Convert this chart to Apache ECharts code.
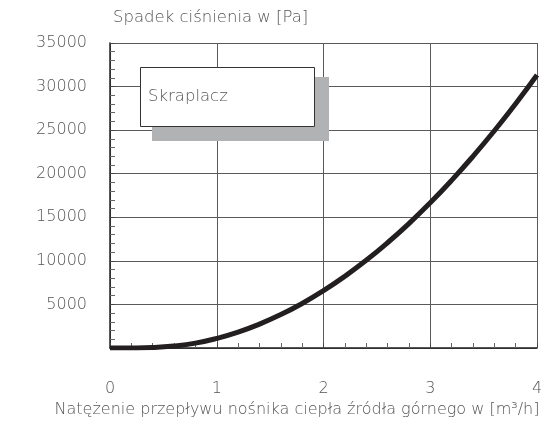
<!DOCTYPE html>
<html>
<head>
<meta charset="utf-8">
<script src="https://cdn.jsdelivr.net/npm/echarts@6/dist/echarts.min.js"></script>
<style>
  html, body { margin: 0; padding: 0; background: #fff; }
  #chart { width: 553px; height: 437px; }
</style>
</head>
<body>
<div id="chart"></div>
<script>
// przeplyw [m3/h] i spadek cisnienia [Pa]
var flow = [0, 0.2, 0.4, 0.6, 0.8, 1.0, 1.2, 1.4, 1.6, 1.8, 2.0, 2.2, 2.4, 2.6, 2.8, 3.0, 3.2, 3.4, 3.6, 3.8, 4.0];
var pressureDrop = [0, 10, 60, 230, 560, 1100, 1820, 2740, 3830, 5110, 6580, 8230, 10060, 12080, 14280, 16670, 19240, 21990, 24920, 28030, 31330];
var seriesName = 'Skraplacz';
var yTitle = 'Spadek ciśnienia w [Pa]';
var xTitle = 'Natężenie przepływu nośnika ciepła źródła górnego w [m³/h]';

var font = 'DejaVu Sans, sans-serif';
var fontW = 200;
var textColor = '#555';
var lineColor = '#5a5a5a';

var points = [];
for (var i = 0; i < flow.length; i++) {
  points.push([flow[i], pressureDrop[i]]);
}

var chart = echarts.init(document.getElementById('chart'));

chart.setOption({
  animation: false,
  grid: { left: 110, right: 16, top: 43, bottom: 89 },
  xAxis: {
    type: 'value',
    min: 0,
    max: 4,
    interval: 1,
    name: xTitle,
    nameLocation: 'middle',
    nameGap: 54,
    nameTextStyle: { fontFamily: font, fontWeight: fontW, fontSize: 16, color: textColor, padding: [0, 53, 0, 0] },
    axisLine: { show: true, lineStyle: { color: '#222', width: 1.5 } },
    axisTick: { show: true, inside: true, length: 5, lineStyle: { color: '#444' } },
    minorTick: { show: true, splitNumber: 5, length: 5, lineStyle: { color: '#666' } },
    axisLabel: { margin: 33, fontFamily: font, fontWeight: fontW, fontSize: 16, color: textColor },
    splitLine: { show: true, lineStyle: { color: lineColor, width: 1 } }
  },
  yAxis: {
    type: 'value',
    min: 0,
    max: 35000,
    interval: 5000,
    name: yTitle,
    nameLocation: 'end',
    nameGap: 17,
    nameTextStyle: { fontFamily: font, fontWeight: fontW, fontSize: 16.5, color: textColor, align: 'left', padding: [0, 0, 0, 3] },
    axisLine: { show: true, lineStyle: { color: '#222', width: 1.5 } },
    axisTick: { show: true, inside: true, length: 5, lineStyle: { color: '#444' } },
    minorTick: { show: true, splitNumber: 5, length: 5, lineStyle: { color: '#666' } },
    axisLabel: {
      showMinLabel: false,
      margin: 23,
      fontFamily: font,
      fontWeight: fontW,
      fontSize: 16,
      color: textColor,
      formatter: function (v) { return String(v); }
    },
    splitLine: { show: true, lineStyle: { color: lineColor, width: 1 } }
  },
  series: [{
    name: seriesName,
    type: 'line',
    data: points,
    smooth: true,
    showSymbol: false,
    lineStyle: { color: '#231f20', width: 5 },
    z: 5
  }],
  graphic: [
    // ramka z podpisem serii i cieniem
    {
      type: 'rect',
      shape: { x: 152, y: 77, width: 177, height: 64 },
      style: { fill: '#b1b2b4' },
      z: 10
    },
    {
      type: 'rect',
      shape: { x: 140.5, y: 67.5, width: 174, height: 59 },
      style: { fill: '#fff', stroke: '#333', lineWidth: 1 },
      z: 11
    },
    {
      type: 'text',
      x: 148,
      y: 97,
      style: { text: seriesName, fontFamily: font, fontWeight: fontW, fontSize: 16.5, fill: textColor, verticalAlign: 'middle' },
      z: 12
    }
  ]
});
</script>
</body>
</html>
